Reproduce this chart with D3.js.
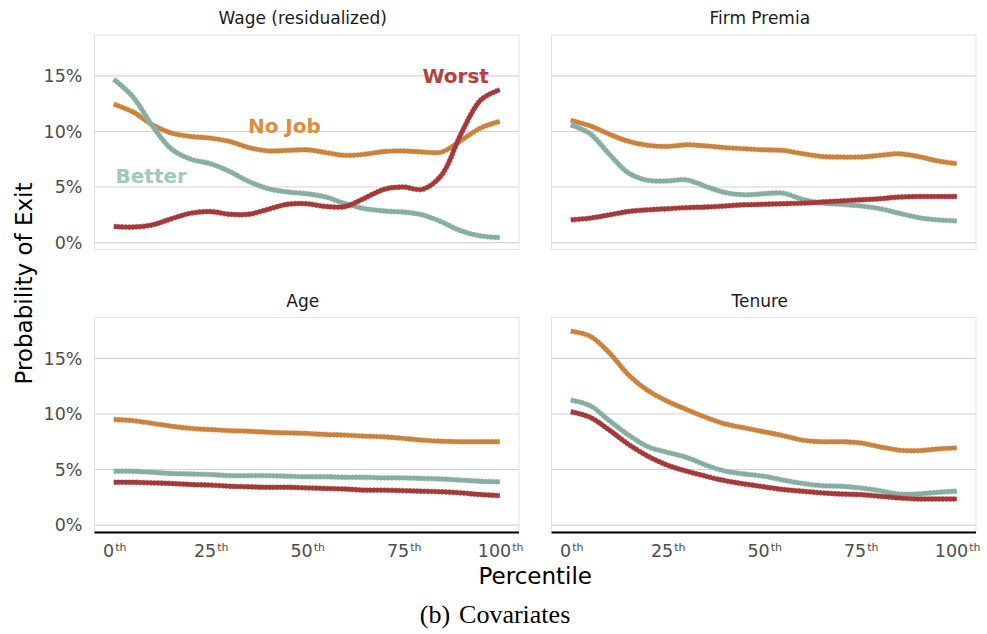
<!DOCTYPE html>
<html>
<head>
<meta charset="utf-8">
<script src="https://cdn.jsdelivr.net/npm/d3@7/dist/d3.min.js"></script>
<style>
  html, body { margin: 0; padding: 0; background: #ffffff; }
  svg { display: block; }
</style>
</head>
<body>
<svg id="chart" width="987" height="634"></svg>
<script>
// Percentile grid shared by every panel
const percentiles = [0, 5, 10, 15, 20, 25, 30, 35, 40, 45, 50, 55, 60, 65, 70, 75, 80, 85, 90, 95, 100];

const panelTitles = ["Wage (residualized)", "Firm Premia", "Age", "Tenure"];
const seriesNames = ["No Job", "Better", "Worst"];

// Probability of exit (%) by percentile of each covariate
const wageNoJob  = [12.45, 11.75, 10.6, 9.85, 9.55, 9.4, 9.1, 8.55, 8.25, 8.3, 8.35, 8.1, 7.85, 7.95, 8.2, 8.25, 8.15, 8.15, 9.2, 10.3, 10.9];
const wageBetter = [14.7, 13.1, 10.5, 8.4, 7.5, 7.1, 6.4, 5.5, 4.85, 4.55, 4.4, 4.1, 3.5, 3.05, 2.85, 2.75, 2.5, 1.85, 1.05, 0.6, 0.45];
const wageWorst  = [1.45, 1.4, 1.6, 2.15, 2.65, 2.8, 2.55, 2.55, 3.0, 3.45, 3.5, 3.25, 3.25, 4.0, 4.8, 5.0, 4.8, 6.1, 9.8, 12.8, 13.75];

const firmNoJob  = [11.0, 10.5, 9.75, 9.1, 8.75, 8.65, 8.8, 8.7, 8.55, 8.45, 8.35, 8.3, 8.0, 7.75, 7.7, 7.7, 7.85, 8.0, 7.75, 7.35, 7.1];
const firmBetter = [10.6, 9.8, 7.95, 6.25, 5.6, 5.55, 5.65, 5.05, 4.5, 4.3, 4.4, 4.45, 3.9, 3.55, 3.45, 3.3, 3.05, 2.65, 2.25, 2.05, 1.95];
const firmWorst  = [2.05, 2.2, 2.5, 2.8, 2.95, 3.05, 3.15, 3.2, 3.3, 3.4, 3.45, 3.5, 3.55, 3.65, 3.75, 3.85, 3.95, 4.1, 4.15, 4.15, 4.15];

const ageNoJob   = [9.5, 9.4, 9.15, 8.9, 8.7, 8.6, 8.5, 8.45, 8.35, 8.3, 8.25, 8.15, 8.1, 8.0, 7.95, 7.8, 7.65, 7.55, 7.5, 7.5, 7.5];
const ageBetter  = [4.85, 4.85, 4.75, 4.65, 4.6, 4.55, 4.45, 4.45, 4.45, 4.4, 4.35, 4.35, 4.3, 4.3, 4.25, 4.25, 4.2, 4.15, 4.05, 3.95, 3.9];
const ageWorst   = [3.85, 3.85, 3.8, 3.75, 3.65, 3.6, 3.5, 3.45, 3.4, 3.4, 3.35, 3.3, 3.25, 3.15, 3.15, 3.1, 3.05, 3.0, 2.9, 2.75, 2.65];

const tenureNoJob  = [17.45, 17.0, 15.5, 13.5, 12.1, 11.15, 10.4, 9.7, 9.1, 8.75, 8.4, 8.05, 7.65, 7.5, 7.5, 7.4, 7.05, 6.75, 6.7, 6.85, 6.95];
const tenureBetter = [11.25, 10.75, 9.4, 8.1, 7.05, 6.55, 6.1, 5.4, 4.85, 4.6, 4.4, 4.05, 3.75, 3.55, 3.5, 3.35, 3.1, 2.8, 2.8, 2.95, 3.05];
const tenureWorst  = [10.2, 9.7, 8.55, 7.25, 6.2, 5.4, 4.85, 4.4, 4.0, 3.7, 3.45, 3.2, 3.05, 2.9, 2.8, 2.75, 2.6, 2.45, 2.35, 2.35, 2.35];

const yTicks = [0, 5, 10, 15];
const yTickLabels = ["0%", "5%", "10%", "15%"];
const xTicks = [0, 25, 50, 75, 100];
const xTickNumbers = ["0", "25", "50", "75", "100"];
const xTickSuffix = "th";

// Build panel table from the arrays above
const panelSeries = [
  [wageNoJob, wageBetter, wageWorst],
  [firmNoJob, firmBetter, firmWorst],
  [ageNoJob, ageBetter, ageWorst],
  [tenureNoJob, tenureBetter, tenureWorst]
];

const styles = {
  "No Job": { line: "#c9823f", halo: "#eaa963", label: "#e08c3c" },
  "Better": { line: "#88aea3", halo: "#a3c6bb", label: "#9fcabb" },
  "Worst":  { line: "#a23a3b", halo: "#c66867", label: "#b3403f" }
};

const svg = d3.select("#chart");
const font = "'DejaVu Sans', Verdana, sans-serif";

const cols = [[94.5, 519], [551.5, 976]];
const rows = [[35, 249.5], [317.5, 532]];

const x = [0, 1].map(c => d3.scaleLinear().domain([-5, 105]).range(cols[c]));
const y = [0, 1].map(r => d3.scaleLinear().domain([-0.62, 18.68]).range([rows[r][1], rows[r][0]]));

panelTitles.forEach((title, i) => {
  const c = i % 2, r = Math.floor(i / 2);
  const xs = x[c], ys = y[r];
  const g = svg.append("g");

  // panel frame
  g.append("rect")
    .attr("x", cols[c][0]).attr("y", rows[r][0])
    .attr("width", cols[c][1] - cols[c][0]).attr("height", rows[r][1] - rows[r][0])
    .attr("fill", "none").attr("stroke", "#e2e2e2").attr("stroke-width", 1);

  // horizontal grid
  g.selectAll(".grid").data(yTicks).enter().append("line")
    .attr("x1", cols[c][0]).attr("x2", cols[c][1])
    .attr("y1", d => ys(d)).attr("y2", d => ys(d))
    .attr("stroke", "#d4d4d4").attr("stroke-width", 1.1);

  // strip title
  g.append("text")
    .attr("x", (cols[c][0] + cols[c][1]) / 2 - 4)
    .attr("y", rows[r][0] - 11)
    .attr("text-anchor", "middle")
    .attr("font-family", font).attr("font-size", 17)
    .attr("fill", "#1a1a1a")
    .text(title);

  // y tick labels on left column
  if (c === 0) {
    g.selectAll(".ytl").data(yTicks).enter().append("text")
      .attr("x", cols[0][0] - 12)
      .attr("y", d => ys(d))
      .attr("dy", "0.36em")
      .attr("text-anchor", "end")
      .attr("font-family", font).attr("font-size", 17.5)
      .attr("fill", "#4d4d4d")
      .text((d, k) => yTickLabels[k]);
  }

  // x axis line and tick labels on bottom row
  if (r === 1) {
    g.append("line")
      .attr("x1", cols[c][0]).attr("x2", cols[c][1])
      .attr("y1", rows[1][1] + 0.5).attr("y2", rows[1][1] + 0.5)
      .attr("stroke", "#000").attr("stroke-width", 2.2);
    const t = g.selectAll(".xtl").data(xTicks).enter().append("text")
      .attr("x", d => xs(d) + 1)
      .attr("y", rows[1][1] + 25)
      .attr("text-anchor", "middle")
      .attr("font-family", font).attr("font-size", 17.5)
      .attr("fill", "#4d4d4d");
    t.append("tspan").text((d, k) => xTickNumbers[k]);
    t.append("tspan").attr("font-size", 11).attr("dy", -6).attr("dx", 1)
      .attr("fill", "#4d4d4d").text(xTickSuffix);
  }

  const line = d3.line()
    .x((d, k) => xs(percentiles[k]))
    .y(d => ys(d))
    .curve(d3.curveCatmullRom.alpha(0.5));

  panelSeries[i].forEach((vals, s) => {
    const st = styles[seriesNames[s]];
    // thin dashed confidence fringe, then the estimate on top
    g.append("path").datum(vals).attr("d", line)
      .attr("fill", "none").attr("stroke", st.halo).attr("stroke-width", 5.6)
      .attr("stroke-dasharray", "2.2,1.4").attr("stroke-opacity", 0.85);
    g.append("path").datum(vals).attr("d", line)
      .attr("fill", "none").attr("stroke", st.line).attr("stroke-width", 4.4)
      .attr("stroke-linejoin", "round").attr("stroke-linecap", "butt");
  });

  // direct labels on the first panel
  if (i === 0) {
    const notes = [
      { name: "Better", px: 9.7, val: 6.0 },
      { name: "No Job", px: 44.2, val: 10.5 },
      { name: "Worst", px: 88.6, val: 15.0 }
    ];
    g.selectAll(".note").data(notes).enter().append("text")
      .attr("x", d => xs(d.px)).attr("y", d => ys(d.val))
      .attr("dy", "0.36em")
      .attr("text-anchor", "middle")
      .attr("font-family", font).attr("font-weight", "bold").attr("font-size", 20)
      .attr("fill", d => styles[d.name].label)
      .text(d => d.name);
  }
});

// axis titles
svg.append("text")
  .attr("x", (cols[0][0] + cols[1][1]) / 2).attr("y", 584)
  .attr("text-anchor", "middle")
  .attr("font-family", font).attr("font-size", 23).attr("fill", "#000")
  .text("Percentile");

svg.append("text")
  .attr("transform", `translate(31.5, ${(rows[0][0] + rows[1][1]) / 2}) rotate(-90)`)
  .attr("text-anchor", "middle")
  .attr("font-family", font).attr("font-size", 23).attr("fill", "#000")
  .text("Probability of Exit");

// sub-figure caption
const cap = svg.append("text")
  .attr("x", 495).attr("y", 623)
  .attr("text-anchor", "middle")
  .attr("font-family", "'Liberation Serif', 'DejaVu Serif', serif").attr("font-size", 26)
  .attr("fill", "#000");
cap.append("tspan").text("(b)");
cap.append("tspan").attr("dx", 9).text("Covariates");
</script>
</body>
</html>
